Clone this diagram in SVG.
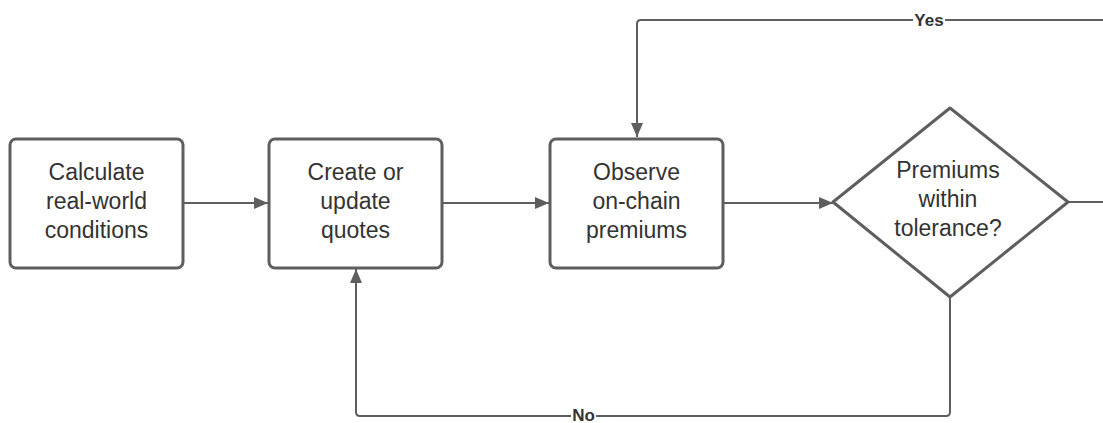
<svg xmlns="http://www.w3.org/2000/svg" width="1103" height="423" viewBox="0 0 1103 423">
<style>
.box{fill:#fff;stroke:#5e5e5e;stroke-width:3}
.lbl{font-family:"Liberation Sans",Arial,sans-serif;font-size:23px;fill:#333;text-anchor:middle}
.edge{fill:none;stroke:#5e5e5e;stroke-width:2}
.el{font-family:"Liberation Sans",Arial,sans-serif;font-size:17px;font-weight:bold;fill:#333;text-anchor:middle}
</style>
<defs>
<marker id="ah" viewBox="0 0 14 12" refX="14" refY="6" markerWidth="14" markerHeight="12" markerUnits="userSpaceOnUse" orient="auto">
<path d="M0,0 L14,6 L0,12 z" fill="#5e5e5e"/>
</marker>
</defs>
<rect width="1103" height="423" fill="#fff"/>
<g id="connectors">
<path class="edge" d="M183,203 H268" marker-end="url(#ah)"/>
<path class="edge" d="M442,203 H549" marker-end="url(#ah)"/>
<path class="edge" d="M723,203 H833" marker-end="url(#ah)"/>
<path class="edge" d="M1068,202 H1103"/>
<path class="edge" d="M1103,20 H641 Q637,20 637,24 V137" marker-end="url(#ah)"/>
<path class="edge" d="M950,297 V412 Q950,416 946,416 H360 Q356,416 356,412 V269" marker-end="url(#ah)"/>
<rect x="913" y="10" width="32" height="18" fill="#fff"/>
<text class="el" x="929" y="26">Yes</text>
<rect x="571" y="406" width="25" height="17" fill="#fff"/>
<text class="el" x="583.5" y="421">No</text>
</g>
<g id="calc">
<rect class="box" x="10" y="139" width="173" height="129" rx="6"/>
<text class="lbl" x="96.5" y="180">Calculate</text>
<text class="lbl" x="96.5" y="209">real-world</text>
<text class="lbl" x="96.5" y="238">conditions</text>
</g>
<g id="quotes">
<rect class="box" x="269" y="139" width="173" height="129" rx="6"/>
<text class="lbl" x="355.5" y="180">Create or</text>
<text class="lbl" x="355.5" y="209">update</text>
<text class="lbl" x="355.5" y="238">quotes</text>
</g>
<g id="observe">
<rect class="box" x="550" y="139" width="173" height="129" rx="6"/>
<text class="lbl" x="636.5" y="180">Observe</text>
<text class="lbl" x="636.5" y="209">on-chain</text>
<text class="lbl" x="636.5" y="238">premiums</text>
</g>
<g id="decision">
<path class="box" stroke-linejoin="round" d="M950,108 L1068,202 L950,297 L833,202 Z"/>
<text class="lbl" x="948" y="178">Premiums</text>
<text class="lbl" x="948" y="207">within</text>
<text class="lbl" x="948" y="236">tolerance?</text>
</g>
</svg>
